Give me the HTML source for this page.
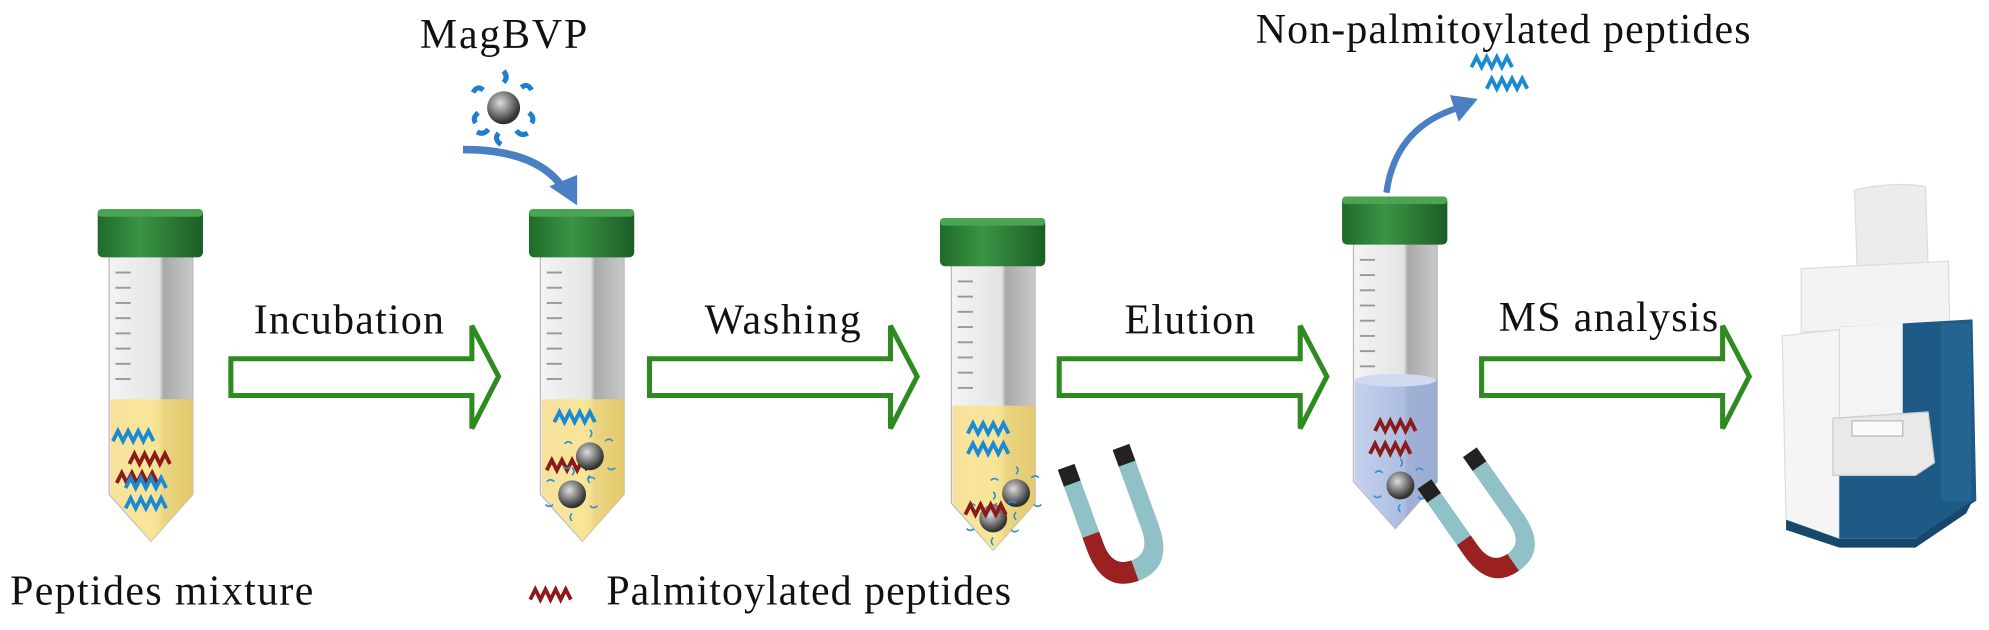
<!DOCTYPE html>
<html><head><meta charset="utf-8"><style>
html,body{margin:0;padding:0;background:#fff;}
svg{display:block;}
text{font-family:"Liberation Serif",serif;fill:#111;}
</style></head><body>
<svg width="1989" height="630" viewBox="0 0 1568 497" preserveAspectRatio="none" xmlns="http://www.w3.org/2000/svg">
<defs>
<linearGradient id="cap" x1="0" x2="1"><stop offset="0" stop-color="#1f6b2a"/><stop offset=".4" stop-color="#3a9444"/><stop offset="1" stop-color="#1c5e25"/></linearGradient>
<linearGradient id="body" x1="0" x2="1"><stop offset="0" stop-color="#f4f4f4"/><stop offset=".6" stop-color="#e4e4e4"/><stop offset=".65" stop-color="#a9a9a9"/><stop offset="1" stop-color="#c9c9c9"/></linearGradient>
<linearGradient id="yel" x1="0" x2="1"><stop offset="0" stop-color="#f7df8d"/><stop offset=".5" stop-color="#fbe58a"/><stop offset="1" stop-color="#e9c85c"/></linearGradient>
<linearGradient id="blu" x1="0" x2="1"><stop offset="0" stop-color="#b9c9ec"/><stop offset="1" stop-color="#8ea6d8"/></linearGradient>
<radialGradient id="ball" cx=".4" cy=".35" r=".6"><stop offset="0" stop-color="#ddd"/><stop offset=".6" stop-color="#777"/><stop offset="1" stop-color="#333"/></radialGradient>
<g id="tube">
  <path d="M9 37 L75 37 L75 225 L42 262 L9 225 Z" fill="url(#body)" stroke="#bbb" stroke-width="1"/>
  <g stroke="#999" stroke-width="1.5">
    <line x1="14" y1="50" x2="26" y2="50"/><line x1="14" y1="62" x2="26" y2="62"/><line x1="14" y1="74" x2="26" y2="74"/><line x1="14" y1="86" x2="26" y2="86"/><line x1="14" y1="98" x2="26" y2="98"/><line x1="14" y1="110" x2="26" y2="110"/><line x1="14" y1="122" x2="26" y2="122"/><line x1="14" y1="134" x2="26" y2="134"/>
  </g>
  <rect x="0" y="0" width="83" height="38" rx="4" fill="url(#cap)"/>
  <rect x="0" y="0" width="83" height="6" rx="3" fill="#4aa452"/>
</g>
<path id="wave" d="M0 8 l4 -8 l4 8 l4 -8 l4 8 l4 -8 l4 8 l4 -8 l4 8" fill="none" stroke-width="3"/>
<g id="np">
  <circle r="11" fill="url(#ball)"/>
  <g stroke="#2a8fd8" stroke-width="1.2" fill="none">
    <path d="M-14 -10 q-3 -3 -6 0"/><path d="M12 -12 q3 -3 6 0"/><path d="M-15 8 q-3 3 -6 0"/><path d="M14 9 q3 3 6 0"/><path d="M0 -15 q3 -3 0 -6"/><path d="M0 15 q-3 3 0 6"/>
  </g>
</g>
<g id="mag">
  <path d="M0 0 L14 0 L14 55 Q14 75 30 75 Q46 75 46 55 L46 0 L60 0 L60 55 Q60 92 30 92 Q0 92 0 55 Z" fill="#8fc1c6"/>
  <path d="M0 45 L14 45 L14 55 Q14 75 30 75 L30 92 Q0 92 0 55 Z" fill="#9b2020"/>
  <rect x="0" y="-12" width="14" height="14" fill="#222"/>
  <rect x="46" y="-12" width="14" height="14" fill="#222"/>
</g>
</defs>

<!-- texts -->
<text x="397" y="38" font-size="33" text-anchor="middle" textLength="132">MagBVP</text>
<text x="1185" y="34" font-size="33" text-anchor="middle" textLength="390">Non-palmitoylated peptides</text>
<text x="275" y="263" font-size="33" text-anchor="middle" textLength="150">Incubation</text>
<text x="617" y="263" font-size="33" text-anchor="middle" textLength="123">Washing</text>
<text x="938" y="263" font-size="33" text-anchor="middle" textLength="103">Elution</text>
<text x="1268" y="261" font-size="33" text-anchor="middle" textLength="173">MS analysis</text>
<text x="8" y="477" font-size="33" textLength="239">Peptides mixture</text>
<text x="478" y="477" font-size="33" textLength="319">Palmitoylated peptides</text>
<use href="#wave" x="418" y="465" stroke="#8b1a1a"/>

<!-- arrows -->
<g transform="translate(182,255)"><path d="M0 28 L190 28 L190 2 L211 42 L190 83 L190 57 L0 57 Z" fill="#fff" stroke="#2e8b20" stroke-width="4"/></g>
<g transform="translate(512,255)"><path d="M0 28 L190 28 L190 2 L211 42 L190 83 L190 57 L0 57 Z" fill="#fff" stroke="#2e8b20" stroke-width="4"/></g>
<g transform="translate(835,255)"><path d="M0 28 L190 28 L190 2 L211 42 L190 83 L190 57 L0 57 Z" fill="#fff" stroke="#2e8b20" stroke-width="4"/></g>
<g transform="translate(1168,255)"><path d="M0 28 L190 28 L190 2 L211 42 L190 83 L190 57 L0 57 Z" fill="#fff" stroke="#2e8b20" stroke-width="4"/></g>

<!-- MagBVP particle and curved arrow -->
<g transform="translate(397,85)"><circle r="13" fill="url(#ball)"/>
<g stroke="#1e7fd0" stroke-width="4" fill="none"><path d="M-16 -14 q-5 -4 -8 2"/><path d="M14 -16 q5 -4 8 2"/><path d="M-20 4 q-5 4 -2 8"/><path d="M20 4 q5 4 2 8"/><path d="M0 -20 q4 -4 0 -9"/><path d="M-4 20 q-4 5 2 9"/><path d="M10 18 q4 5 9 2"/><path d="M-12 17 q-4 5 -9 2"/></g></g>
<path d="M365 118 Q425 118 445 150" fill="none" stroke="#4a7fc4" stroke-width="6"/>
<path d="M433 147 L455 162 L455 138 Z" fill="#4a7fc4"/>

<!-- tube 1 -->
<g transform="translate(77,165)">
  <use href="#tube"/>
  <path d="M10 150 L75 150 L75 225 L42 262 L10 225 Z" fill="url(#yel)" opacity=".85"/>
  <use href="#wave" x="12" y="175" stroke="#1a8ad4"/>
  <use href="#wave" x="25" y="193" stroke="#8b1a1a"/>
  <use href="#wave" x="15" y="208" stroke="#8b1a1a"/>
  <use href="#wave" x="22" y="212" stroke="#1a8ad4"/>
  <use href="#wave" x="22" y="228" stroke="#1a8ad4"/>
</g>

<!-- tube 2 -->
<g transform="translate(417,165)">
  <use href="#tube"/>
  <path d="M10 150 L75 150 L75 225 L42 262 L10 225 Z" fill="url(#yel)" opacity=".85"/>
  <use href="#wave" x="20" y="160" stroke="#1a8ad4"/>
  <use href="#wave" x="14" y="198" stroke="#8b1a1a"/>
  <use href="#np" x="48" y="195"/>
  <use href="#np" x="34" y="225"/>
</g>

<!-- tube 3 -->
<g transform="translate(741,172)">
  <use href="#tube"/>
  <path d="M10 148 L75 148 L75 225 L42 262 L10 225 Z" fill="url(#yel)" opacity=".85"/>
  <use href="#wave" x="22" y="162" stroke="#1a8ad4"/>
  <use href="#wave" x="22" y="178" stroke="#1a8ad4"/>
  <use href="#np" x="60" y="217"/>
  <use href="#np" x="42" y="237"/>
  <use href="#wave" x="20" y="226" stroke="#8b1a1a"/>
</g>
<!-- magnet 1 -->
<use href="#mag" transform="translate(838,382) rotate(-20)"/>

<!-- tube 4 -->
<g transform="translate(1058,155)">
  <use href="#tube"/>
  <path d="M10 145 L75 145 L75 225 L42 262 L10 225 Z" fill="url(#blu)" opacity=".8"/>
  <ellipse cx="42" cy="145" rx="32" ry="5" fill="#d0dbf2"/>
  <use href="#wave" x="26" y="177" stroke="#8b1a1a"/>
  <use href="#wave" x="22" y="195" stroke="#8b1a1a"/>
  <use href="#np" x="46" y="228"/>
</g>
<!-- magnet 2 -->
<use href="#mag" transform="translate(1124,395) rotate(-35) scale(0.95)"/>

<!-- curved arrow up -->
<path d="M1093 152 Q1100 100 1150 85" fill="none" stroke="#4a7fc4" stroke-width="5"/>
<path d="M1143 75 L1165 78 L1150 96 Z" fill="#4a7fc4"/>
<use href="#wave" x="1160" y="45" stroke="#1a8ad4"/>
<use href="#wave" x="1172" y="62" stroke="#1a8ad4"/>

<!-- MS instrument -->
<g>
  <path d="M1462 150 Q1490 143 1518 147 L1520 212 L1464 212 Z" fill="#ececec" stroke="#ddd"/>
  <path d="M1420 212 L1536 206 L1537 255 L1420 262 Z" fill="#f3f3f3" stroke="#ddd"/>
  <path d="M1405 265 L1450 260 L1450 425 L1408 410 Z" fill="#f5f5f5" stroke="#ddd"/>
  <path d="M1450 258 L1555 252 L1558 395 L1510 425 L1450 425 Z" fill="#1d5a86"/>
  <path d="M1450 258 L1500 255 L1500 330 L1450 330 Z" fill="#f4f4f4"/>
  <path d="M1445 330 L1520 325 L1525 365 L1510 375 L1445 375 Z" fill="#e9e9e9" stroke="#ccc"/>
  <rect x="1460" y="332" width="40" height="12" fill="#fafafa" stroke="#bbb"/>
  <path d="M1408 410 L1450 425 L1510 425 L1555 395 L1550 405 L1510 432 L1450 432 L1408 418 Z" fill="#17486c"/>
  <rect x="1530" y="255" width="24" height="140" fill="#2a6b98" opacity=".6"/>
</g>
</svg>
</body></html>
